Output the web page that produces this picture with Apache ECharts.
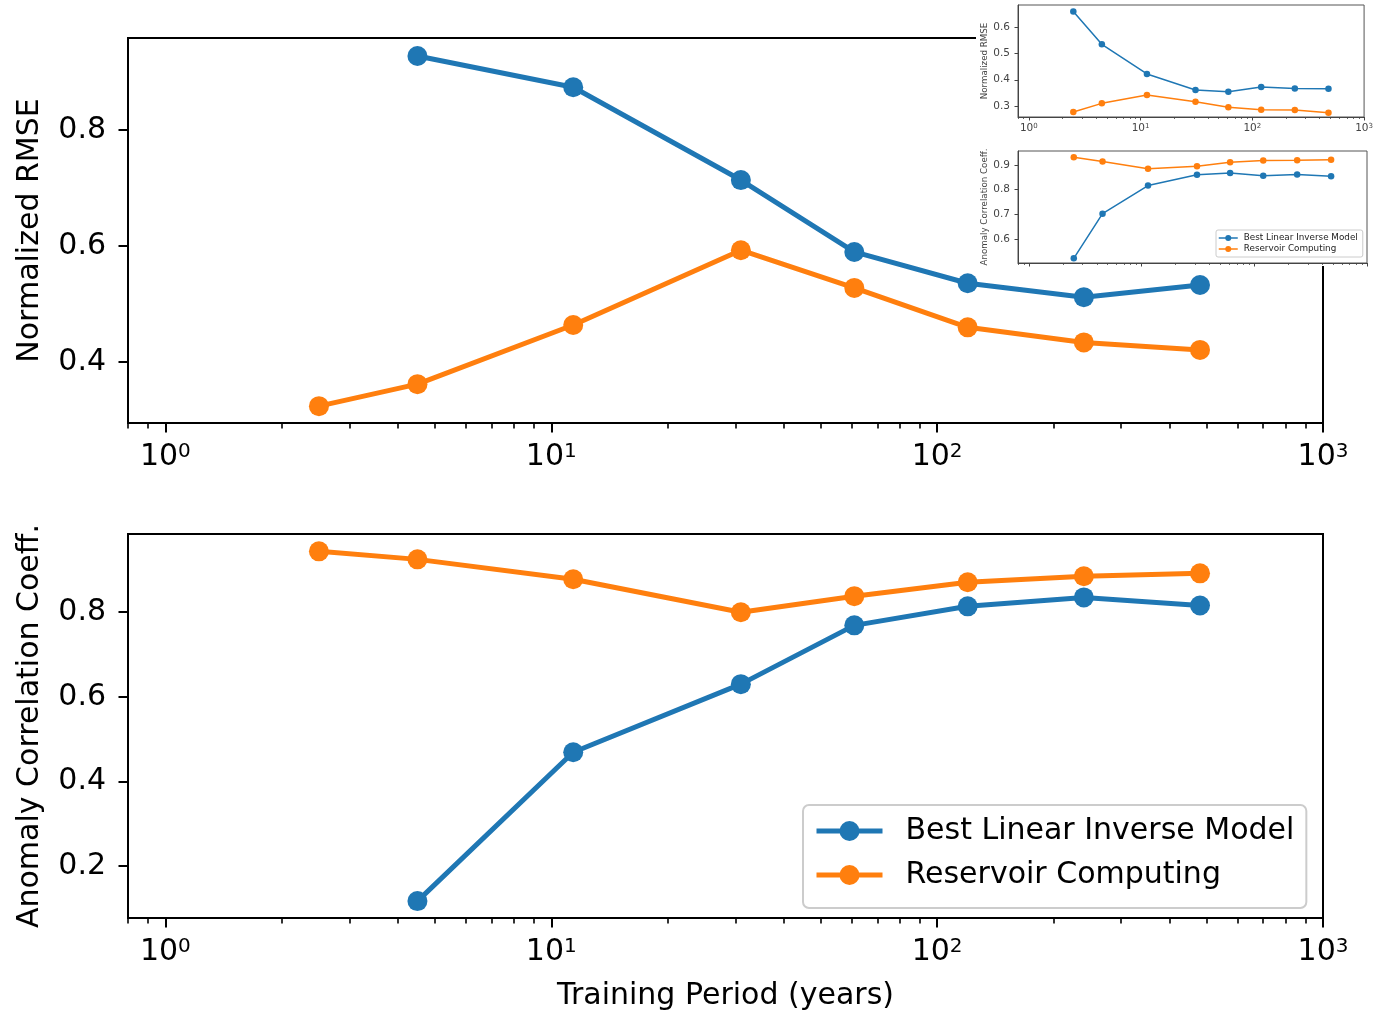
<!DOCTYPE html>
<html>
<head>
<meta charset="utf-8">
<script src="https://cdn.jsdelivr.net/npm/echarts@6/dist/echarts.min.js"></script>
<style>html,body{margin:0;padding:0;background:#fff;}#c{width:1376px;height:1024px;}</style>
</head>
<body>
<div id="c"></div>
<script>
// ---- data ----
const periods = [2.5, 4.5, 11.4, 31, 61, 120, 240, 480];
const rmseBLIM = [null, 0.928, 0.874, 0.714, 0.590, 0.536, 0.512, 0.533];
const rmseRC = [0.324, 0.362, 0.464, 0.593, 0.528, 0.460, 0.434, 0.421];
const accBLIM = [null, 0.117, 0.469, 0.630, 0.769, 0.814, 0.835, 0.816];
const accRC = [0.944, 0.925, 0.878, 0.800, 0.838, 0.871, 0.885, 0.892];
// inset panels
const insetRmseBLIM = [0.660, 0.535, 0.422, 0.361, 0.354, 0.372, 0.367, 0.366];
const insetRmseRC = [0.277, 0.310, 0.342, 0.316, 0.295, 0.286, 0.285, 0.274];
const insetAccBLIM = [0.522, 0.703, 0.817, 0.861, 0.868, 0.857, 0.862, 0.855];
const insetAccRC = [0.932, 0.914, 0.885, 0.895, 0.911, 0.918, 0.919, 0.922];
// ticks
const majorTicks = [1, 10, 100, 1000];
const minorTicks = [0.8, 0.9, 2, 3, 4, 5, 6, 7, 8, 9, 20, 30, 40, 50, 60, 70, 80, 90, 200, 300, 400, 500, 600, 700, 800, 900];
const rmseTicks = [0.4, 0.6, 0.8];
const accTicks = [0.2, 0.4, 0.6, 0.8];
const insetRmseTicks = [0.3, 0.4, 0.5, 0.6];
const insetAccTicks = [0.6, 0.7, 0.8, 0.9];
const names = ['Best Linear Inverse Model', 'Reservoir Computing'];

const C1 = '#1f77b4', C2 = '#ff7f0e';
const FONT = 'DejaVu Sans';
const pairs = (ys) => periods.map((x, i) => [x, ys[i]]).filter(p => p[1] !== null);

function xAxesFor(grid, big, withName, showLabels) {
  const fs = big ? 30 : 10.5;
  const es = big ? 20 : 7;
  const col = big ? '#000' : '#444';
  const lw = big ? 2 : 1;
  const major = {
    type: 'log', logBase: 10, gridIndex: grid, position: 'bottom', min: 0.8, max: 1000, z: big ? 0 : 20,
    axisLine: { show: true, onZero: false, lineStyle: { color: col, width: lw } },
    axisTick: { show: true, customValues: majorTicks, length: big ? 9.5 : 3.5, lineStyle: { color: col, width: lw } },
    axisLabel: {
      show: showLabels, customValues: majorTicks, margin: big ? 19 : 6, color: col,
      formatter: v => '{b|10}{e|' + Math.round(Math.log10(v)) + '}',
      rich: {
        b: { fontSize: fs, fontFamily: FONT, color: col, lineHeight: big ? 30 : 11 },
        e: { fontSize: es, fontFamily: FONT, color: col, verticalAlign: 'top', padding: [0, 0, big ? 10 : 3, 0] }
      }
    },
    splitLine: { show: false }, minorTick: { show: false }
  };
  if (withName) {
    major.name = 'Training Period (years)';
    major.nameLocation = 'middle';
    major.nameGap = 63;
    major.nameTextStyle = { fontSize: 30, fontFamily: FONT, color: '#000' };
  }
  const minor = {
    type: 'log', logBase: 10, gridIndex: grid, position: 'bottom', min: 0.8, max: 1000, z: big ? 0 : 20,
    axisLine: { show: false },
    axisTick: { show: true, customValues: minorTicks, length: big ? 5.5 : 2, lineStyle: { color: col, width: big ? 1.6 : 0.8 } },
    axisLabel: { show: false }, splitLine: { show: false }
  };
  return [major, minor];
}

function yAxisFor(grid, big, min, max, ticks, name, gap) {
  const col = big ? '#000' : '#444';
  return {
    type: 'value', gridIndex: grid, position: 'left', min: min, max: max, z: big ? 0 : 20,
    name: name, nameLocation: 'middle', nameGap: gap,
    nameTextStyle: { fontSize: big ? 30 : 8.7, fontFamily: FONT, color: col },
    axisLine: { show: true, onZero: false, lineStyle: { color: col, width: big ? 2 : 1 } },
    axisTick: { show: true, customValues: ticks, length: big ? 9.5 : 3.5, lineStyle: { color: col, width: big ? 2 : 1 } },
    axisLabel: { show: true, customValues: ticks, margin: big ? 22 : 8, fontSize: big ? 30 : 10.5, fontFamily: FONT, color: col,
      formatter: v => v.toFixed(1) },
    splitLine: { show: false }
  };
}

function lineSeries(name, color, data, xi, yi, big) {
  return {
    type: 'line', name: name, xAxisIndex: xi, yAxisIndex: yi, data: data,
    symbol: 'circle', symbolSize: big ? 20 : 6.5, showAllSymbol: true,
    lineStyle: { color: color, width: big ? 5 : 1.5 },
    itemStyle: { color: color },
    z: big ? 2 : 21, animation: false, silent: true
  };
}

const chart = echarts.init(document.getElementById('c'), null, { renderer: 'canvas' });
const option = {
  backgroundColor: '#fff',
  animation: false,
  textStyle: { fontFamily: FONT },
  grid: [
    { left: 128, top: 38, width: 1195, height: 385, show: true, borderColor: '#000', borderWidth: 2, backgroundColor: 'transparent' },
    { left: 128, top: 534, width: 1195, height: 384, show: true, borderColor: '#000', borderWidth: 2, backgroundColor: 'transparent' },
    { left: 1018, top: 5, width: 349, height: 112, show: true, borderColor: '#555', borderWidth: 1, backgroundColor: '#fff', z: 20 },
    { left: 1018, top: 151, width: 349, height: 112, show: true, borderColor: '#555', borderWidth: 1, backgroundColor: '#fff', z: 20 }
  ],
  graphic: [
    { type: 'rect', z: 10, shape: { x: 976, y: 0, width: 400, height: 266 }, style: { fill: '#fff' } }
  ],
  xAxis: [].concat(xAxesFor(0, true, false, true), xAxesFor(1, true, true, true), xAxesFor(2, false, false, true), xAxesFor(3, false, false, false)),
  yAxis: [
    yAxisFor(0, true, 0.295, 0.959, rmseTicks, 'Normalized RMSE', 83),
    yAxisFor(1, true, 0.077, 0.985, accTicks, 'Anomaly Correlation Coeff.', 83),
    yAxisFor(2, false, 0.258, 0.685, insetRmseTicks, 'Normalized RMSE', 23),
    yAxisFor(3, false, 0.503, 0.957, insetAccTicks, 'Anomaly Correlation Coeff.', 27)
  ],
  legend: [
    {
      orient: 'vertical', left: 803, top: 805, data: names,
      itemWidth: 66, itemHeight: 25, itemGap: 12,
      padding: [10, 12, 17, 11],
      borderColor: '#cccccc', borderWidth: 2, borderRadius: 6, backgroundColor: 'rgba(255,255,255,0.8)',
      lineStyle: { width: 5 },
      textStyle: { fontSize: 30, fontFamily: FONT, color: '#000', lineHeight: 32, padding: [0, 0, 0, 18] },
      selectedMode: false, z: 4
    },
    {
      orient: 'vertical', left: 1216, top: 230, data: names,
      itemWidth: 19, itemHeight: 7.5, itemGap: 1,
      padding: [3, 5, 3, 2],
      borderColor: '#cccccc', borderWidth: 1, borderRadius: 2, backgroundColor: '#fff',
      lineStyle: { width: 1.5 },
      textStyle: { fontSize: 8.8, fontFamily: FONT, color: '#222', lineHeight: 10, padding: [0, 0, 0, 1] },
      selectedMode: false, z: 30
    }
  ],
  series: [
    lineSeries(names[0], C1, pairs(rmseBLIM), 0, 0, true),
    lineSeries(names[1], C2, pairs(rmseRC), 0, 0, true),
    lineSeries(names[0], C1, pairs(accBLIM), 2, 1, true),
    lineSeries(names[1], C2, pairs(accRC), 2, 1, true),
    lineSeries(names[0], C1, pairs(insetRmseBLIM), 4, 2, false),
    lineSeries(names[1], C2, pairs(insetRmseRC), 4, 2, false),
    lineSeries(names[0], C1, pairs(insetAccBLIM), 6, 3, false),
    lineSeries(names[1], C2, pairs(insetAccRC), 6, 3, false)
  ]
};
chart.setOption(option);
</script>
</body>
</html>
